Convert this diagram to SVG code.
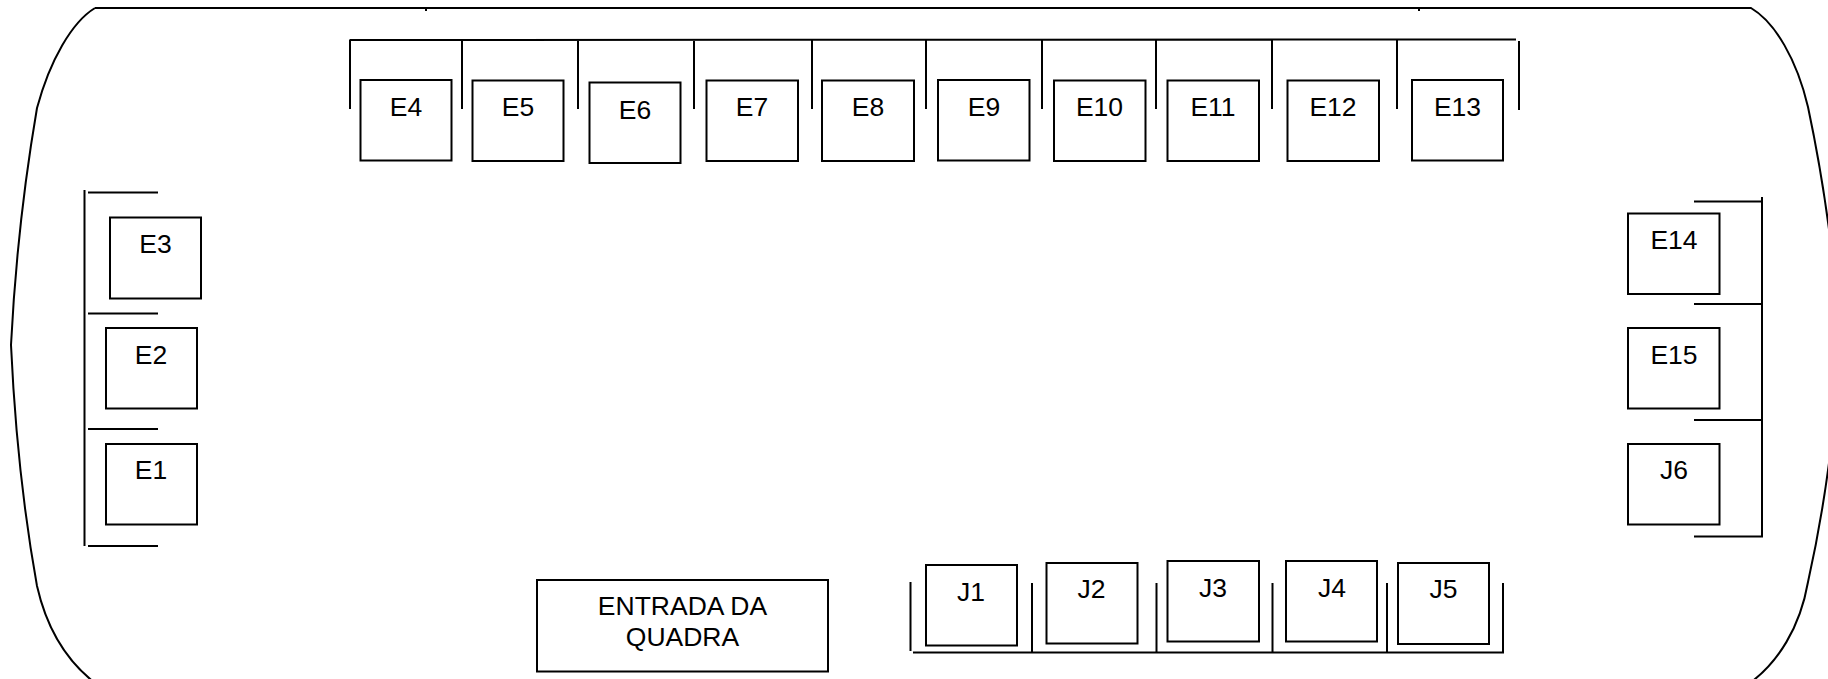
<svg xmlns="http://www.w3.org/2000/svg" width="1828" height="679" viewBox="0 0 1828 679">
<style>
rect{fill:#fff;stroke:#000;stroke-width:2}
text{font-family:"Liberation Sans",Arial,sans-serif;font-size:26.5px;fill:#000;text-anchor:middle}
#connectors path{fill:none;stroke:#000;stroke-width:2}
#outline path{fill:none;stroke:#000;stroke-width:2}
</style>
<g id="outline">
<path d="M95,8 H1751 C1775,22 1797,60 1808,107 Q1833,225 1840,345 Q1833,470 1808,582 C1800,628 1778,662 1750,683"/>
<path d="M95,8 C72,22 50,60 37,108 Q17,225 11,345 Q17,475 37,586 C47,630 68,662 95,683"/>
<path d="M426,8 V11 M1419,8 V11"/>
</g>
<g id="connectors">
<path d="M84.500,190 V546 M88,192.500 H158 M88,313.500 H158 M88,429 H158 M88,546 H158"/>
<path d="M1762,197 V536 M1694,201.500 H1763 M1694,304 H1763 M1694,420 H1763 M1694,536.500 H1763"/>
<path d="M349.500,40 L1516,39.500 M350,40 V109 M462,40 V109 M578,40 V109 M694,40 V109 M812,40 V109 M926,40 V109 M1042,40 V109 M1156,40 V109 M1272,40 V109 M1397,40 V109 M1519,41 V110"/>
<path d="M913,652.500 H1504 M910.500,582 V651 M1032,583 V652 M1156.500,583 V652 M1272.500,583 V652 M1387,583 V652 M1503,583 V652"/>
</g>
<g id="E1"><rect x="106" y="444" width="91" height="80.500"/><text x="151" y="479">E1</text></g>
<g id="E2"><rect x="106" y="328" width="91" height="80.500"/><text x="151" y="364">E2</text></g>
<g id="E3"><rect x="110" y="217.500" width="91" height="81"/><text x="155.500" y="253">E3</text></g>
<g id="E4"><rect x="360.500" y="80" width="91" height="80.500"/><text x="406" y="116">E4</text></g>
<g id="E5"><rect x="472.500" y="80.500" width="91" height="80.500"/><text x="518" y="116">E5</text></g>
<g id="E6"><rect x="589.500" y="82.500" width="91" height="80.500"/><text x="635" y="119">E6</text></g>
<g id="E7"><rect x="706.500" y="80.500" width="91.500" height="80.500"/><text x="752" y="116">E7</text></g>
<g id="E8"><rect x="822" y="80.500" width="92" height="80.500"/><text x="868" y="116">E8</text></g>
<g id="E9"><rect x="938" y="80" width="91.500" height="80.500"/><text x="984" y="116">E9</text></g>
<g id="E10"><rect x="1054" y="80.500" width="91.500" height="80.500"/><text x="1099.500" y="116">E10</text></g>
<g id="E11"><rect x="1167.500" y="80.500" width="91.500" height="80.500"/><text x="1213" y="116">E11</text></g>
<g id="E12"><rect x="1287.500" y="80.500" width="91.500" height="80.500"/><text x="1333" y="116">E12</text></g>
<g id="E13"><rect x="1412" y="80" width="91" height="80.500"/><text x="1457.500" y="116">E13</text></g>
<g id="E14"><rect x="1628" y="213.500" width="91.500" height="80.500"/><text x="1674" y="249">E14</text></g>
<g id="E15"><rect x="1628" y="328" width="91.500" height="80.500"/><text x="1674" y="364">E15</text></g>
<g id="J6"><rect x="1628" y="444" width="91.500" height="80.500"/><text x="1674" y="479">J6</text></g>
<g id="J1"><rect x="926" y="565" width="91" height="80.500"/><text x="971" y="601">J1</text></g>
<g id="J2"><rect x="1046.500" y="563" width="91" height="80.500"/><text x="1091.500" y="598">J2</text></g>
<g id="J3"><rect x="1167.500" y="561" width="91.500" height="80.500"/><text x="1213" y="597">J3</text></g>
<g id="J4"><rect x="1286" y="561" width="91" height="80.500"/><text x="1332" y="597">J4</text></g>
<g id="J5"><rect x="1398" y="563" width="91" height="81"/><text x="1443.500" y="598">J5</text></g>
<g id="entrada"><rect x="537" y="580" width="291" height="91.500"/><text x="682.500" y="615">ENTRADA DA</text><text x="682.500" y="646">QUADRA</text></g>
</svg>
